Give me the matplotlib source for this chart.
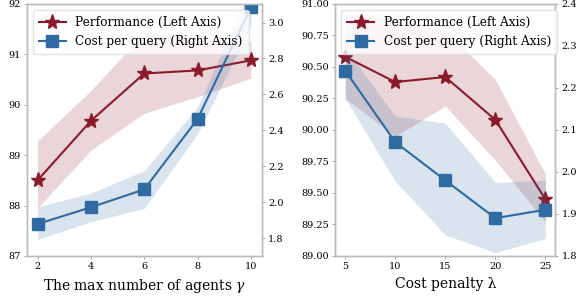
import numpy as np
import matplotlib.pyplot as plt

plt.rcParams['font.family'] = ['DejaVu Serif']
plt.rcParams['mathtext.fontset'] = 'dejavuserif'

RED = '#8b1a2b'
BLUE = '#2f6aa3'

# left panel: max number of agents
agents = [2, 4, 6, 8, 10]
perf_a = [88.5, 89.68, 90.62, 90.68, 90.88]
perf_a_lo = [87.95, 89.1, 89.83, 90.16, 90.53]
perf_a_hi = [89.28, 90.28, 91.42, 91.32, 91.25]
cost_a = [1.878, 1.971, 2.071, 2.463, 3.085]
cost_a_lo = [1.793, 1.89, 1.965, 2.38, 2.98]
cost_a_hi = [1.974, 2.05, 2.175, 2.53, 3.2]

# right panel: cost penalty
penalty = [5, 10, 15, 20, 25]
perf_p = [90.58, 90.38, 90.42, 90.08, 89.45]
perf_p_lo = [90.25, 89.95, 90.19, 89.76, 89.27]
perf_p_hi = [90.92, 90.88, 90.79, 90.4, 89.65]
cost_p = [2.241, 2.071, 1.98, 1.89, 1.91]
cost_p_lo = [2.175, 1.978, 1.85, 1.808, 1.842]
cost_p_hi = [2.294, 2.133, 2.116, 1.975, 1.98]

fig = plt.figure(figsize=(5.84, 2.98), dpi=100)
ax1 = fig.add_axes([0.046, 0.141, 0.402, 0.846])
ax2 = fig.add_axes([0.574, 0.141, 0.377, 0.846])


def panel(ax, x, perf, plo, phi, cost, clo, chi, ylim, rylim, yticks, ryticks, xlabel, yfmt):
    tx = ax.twinx()
    ax.fill_between(x, plo, phi, color=RED, alpha=0.18, lw=0)
    l1, = ax.plot(x, perf, color=RED, lw=1.5, marker='*', ms=11,
                  label='Performance (Left Axis)')
    tx.fill_between(x, clo, chi, color=BLUE, alpha=0.18, lw=0)
    l2, = tx.plot(x, cost, color=BLUE, lw=1.5, marker='s', ms=9,
                  label='Cost per query (Right Axis)')
    ax.set_ylim(*ylim)
    tx.set_ylim(*rylim)
    ax.set_yticks(yticks)
    ax.set_yticklabels([yfmt % v for v in yticks])
    tx.set_yticks(ryticks)
    tx.set_yticklabels(['%.1f' % v for v in ryticks])
    ax.set_xticks(x)
    ax.set_xlabel(xlabel, fontsize=10, labelpad=4)
    for a in (ax, tx):
        a.tick_params(labelsize=7, length=2.5, width=0.6, color='#999999', pad=2)
        for s in a.spines.values():
            s.set_color('#bbbbbb')
            s.set_linewidth(1.0)
    tx.legend(handles=[l1, l2], loc='upper left', fontsize=8.7,
              framealpha=0.8, edgecolor='#dddddd', handlelength=2.2,
              borderpad=0.5, labelspacing=0.5, borderaxespad=0.5)
    return tx


panel(ax1, agents, perf_a, perf_a_lo, perf_a_hi, cost_a, cost_a_lo, cost_a_hi,
      (87, 92), (1.7, 3.104), [87, 88, 89, 90, 91, 92],
      [1.8, 2.0, 2.2, 2.4, 2.6, 2.8, 3.0],
      r'The max number of agents $\gamma$', '%d')
panel(ax2, penalty, perf_p, perf_p_lo, perf_p_hi, cost_p, cost_p_lo, cost_p_hi,
      (89, 91), (1.8, 2.4), [89.0, 89.25, 89.5, 89.75, 90.0, 90.25, 90.5, 90.75, 91.0],
      [1.8, 1.9, 2.0, 2.1, 2.2, 2.3, 2.4],
      'Cost penalty λ', '%.2f')

fig.savefig('out.png', dpi=100)
